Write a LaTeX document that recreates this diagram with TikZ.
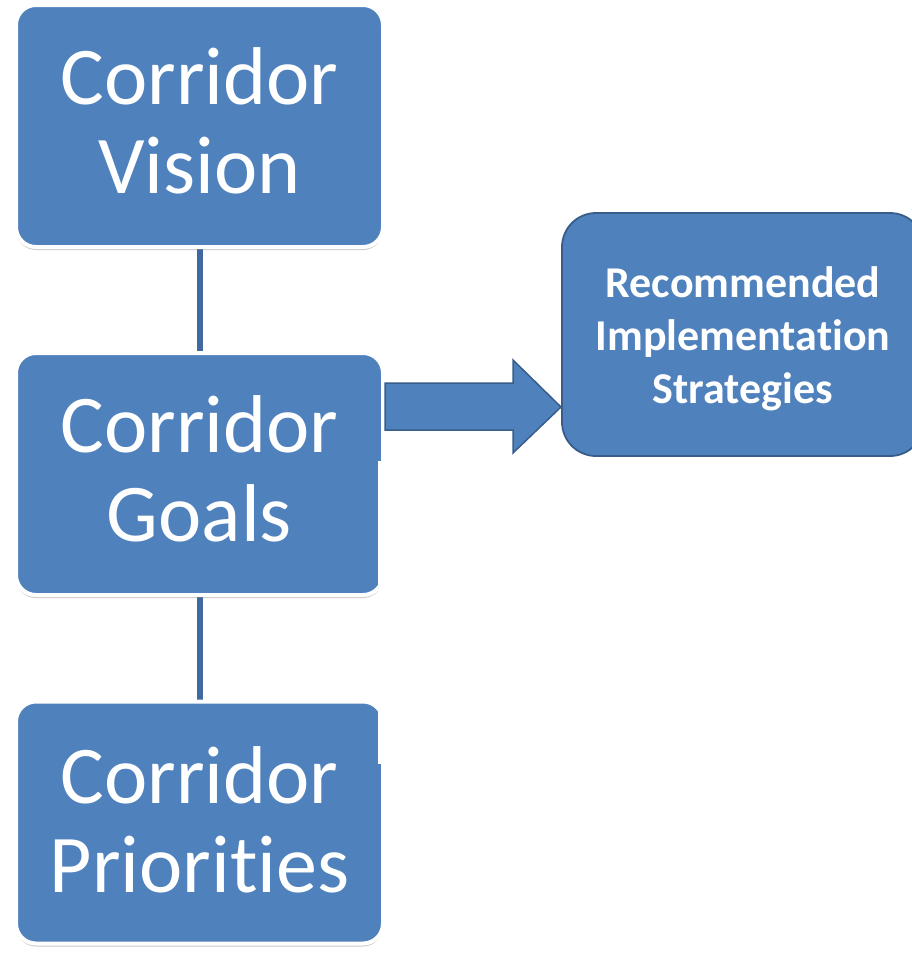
\documentclass[tikz,border=0pt]{standalone}
\usepackage{fontspec}
\setmainfont{Carlito}[Ligatures={NoCommon,NoRequired,NoContextual}]
\usetikzlibrary{shadows,backgrounds}
\definecolor{boxblue}{HTML}{4F81BD}
\definecolor{edgeblue}{HTML}{385D8A}
\definecolor{linkblue}{HTML}{3F69A0}
\newcommand{\shiftedlines}[2]{\raisebox{#1}[\height][\depth]{\begin{tabular}{@{}c@{}}#2\end{tabular}}}
\begin{document}
\begin{tikzpicture}[x=1pt,y=-1pt,
  leftbox/.style={rectangle, rounded corners=20pt, fill=boxblue, draw=white, line width=4pt,
    minimum width=367pt, minimum height=242pt, text=white, align=center, inner sep=0pt,
    font=\fontsize{82}{89}\selectfont,
    drop shadow={shadow xshift=0pt, shadow yshift=-3pt, opacity=0.35, fill=black!60}},
  rightbox/.style={rectangle, rounded corners=34pt, fill=boxblue, draw=edgeblue, line width=1.8pt,
    minimum width=362pt, minimum height=243pt, text=white, align=center, inner sep=0pt,
    font=\bfseries\fontsize{44}{53}\selectfont},
  link/.style={draw=linkblue, line width=6pt},
  blockarrow/.style={fill=boxblue, draw=edgeblue, line width=1.5pt, line join=miter}]
\useasboundingbox (0,0) rectangle (911,956);
\node[leftbox] (vision) at (199.5,126) {\shiftedlines{-5pt}{Corridor\\Vision}};
\node[leftbox] (goals) at (199.5,474) {\shiftedlines{-5pt}{Corridor\\Goals}};
\node[leftbox] (prio) at (199.5,822.5) {\shiftedlines{-8pt}{Corridor\\Priorities}};
\node[rightbox] (rec) at (743,334.5) {\shiftedlines{-5pt}{Recommended\\Implementation\\Strategies}};
\begin{pgfonlayer}{background}
\draw[link] (vision.south) -- (goals.north);
\draw[link] (goals.south) -- (prio.north);
\end{pgfonlayer}
\draw[blockarrow] (385,383) -- (513,383) -- (513,360) -- (561,407) -- (513,453) -- (513,430) -- (385,430) -- cycle;
\fill[white] (378,461) rectangle (911,602);
\fill[white] (378,680) rectangle (911,764);
\end{tikzpicture}
\end{document}
